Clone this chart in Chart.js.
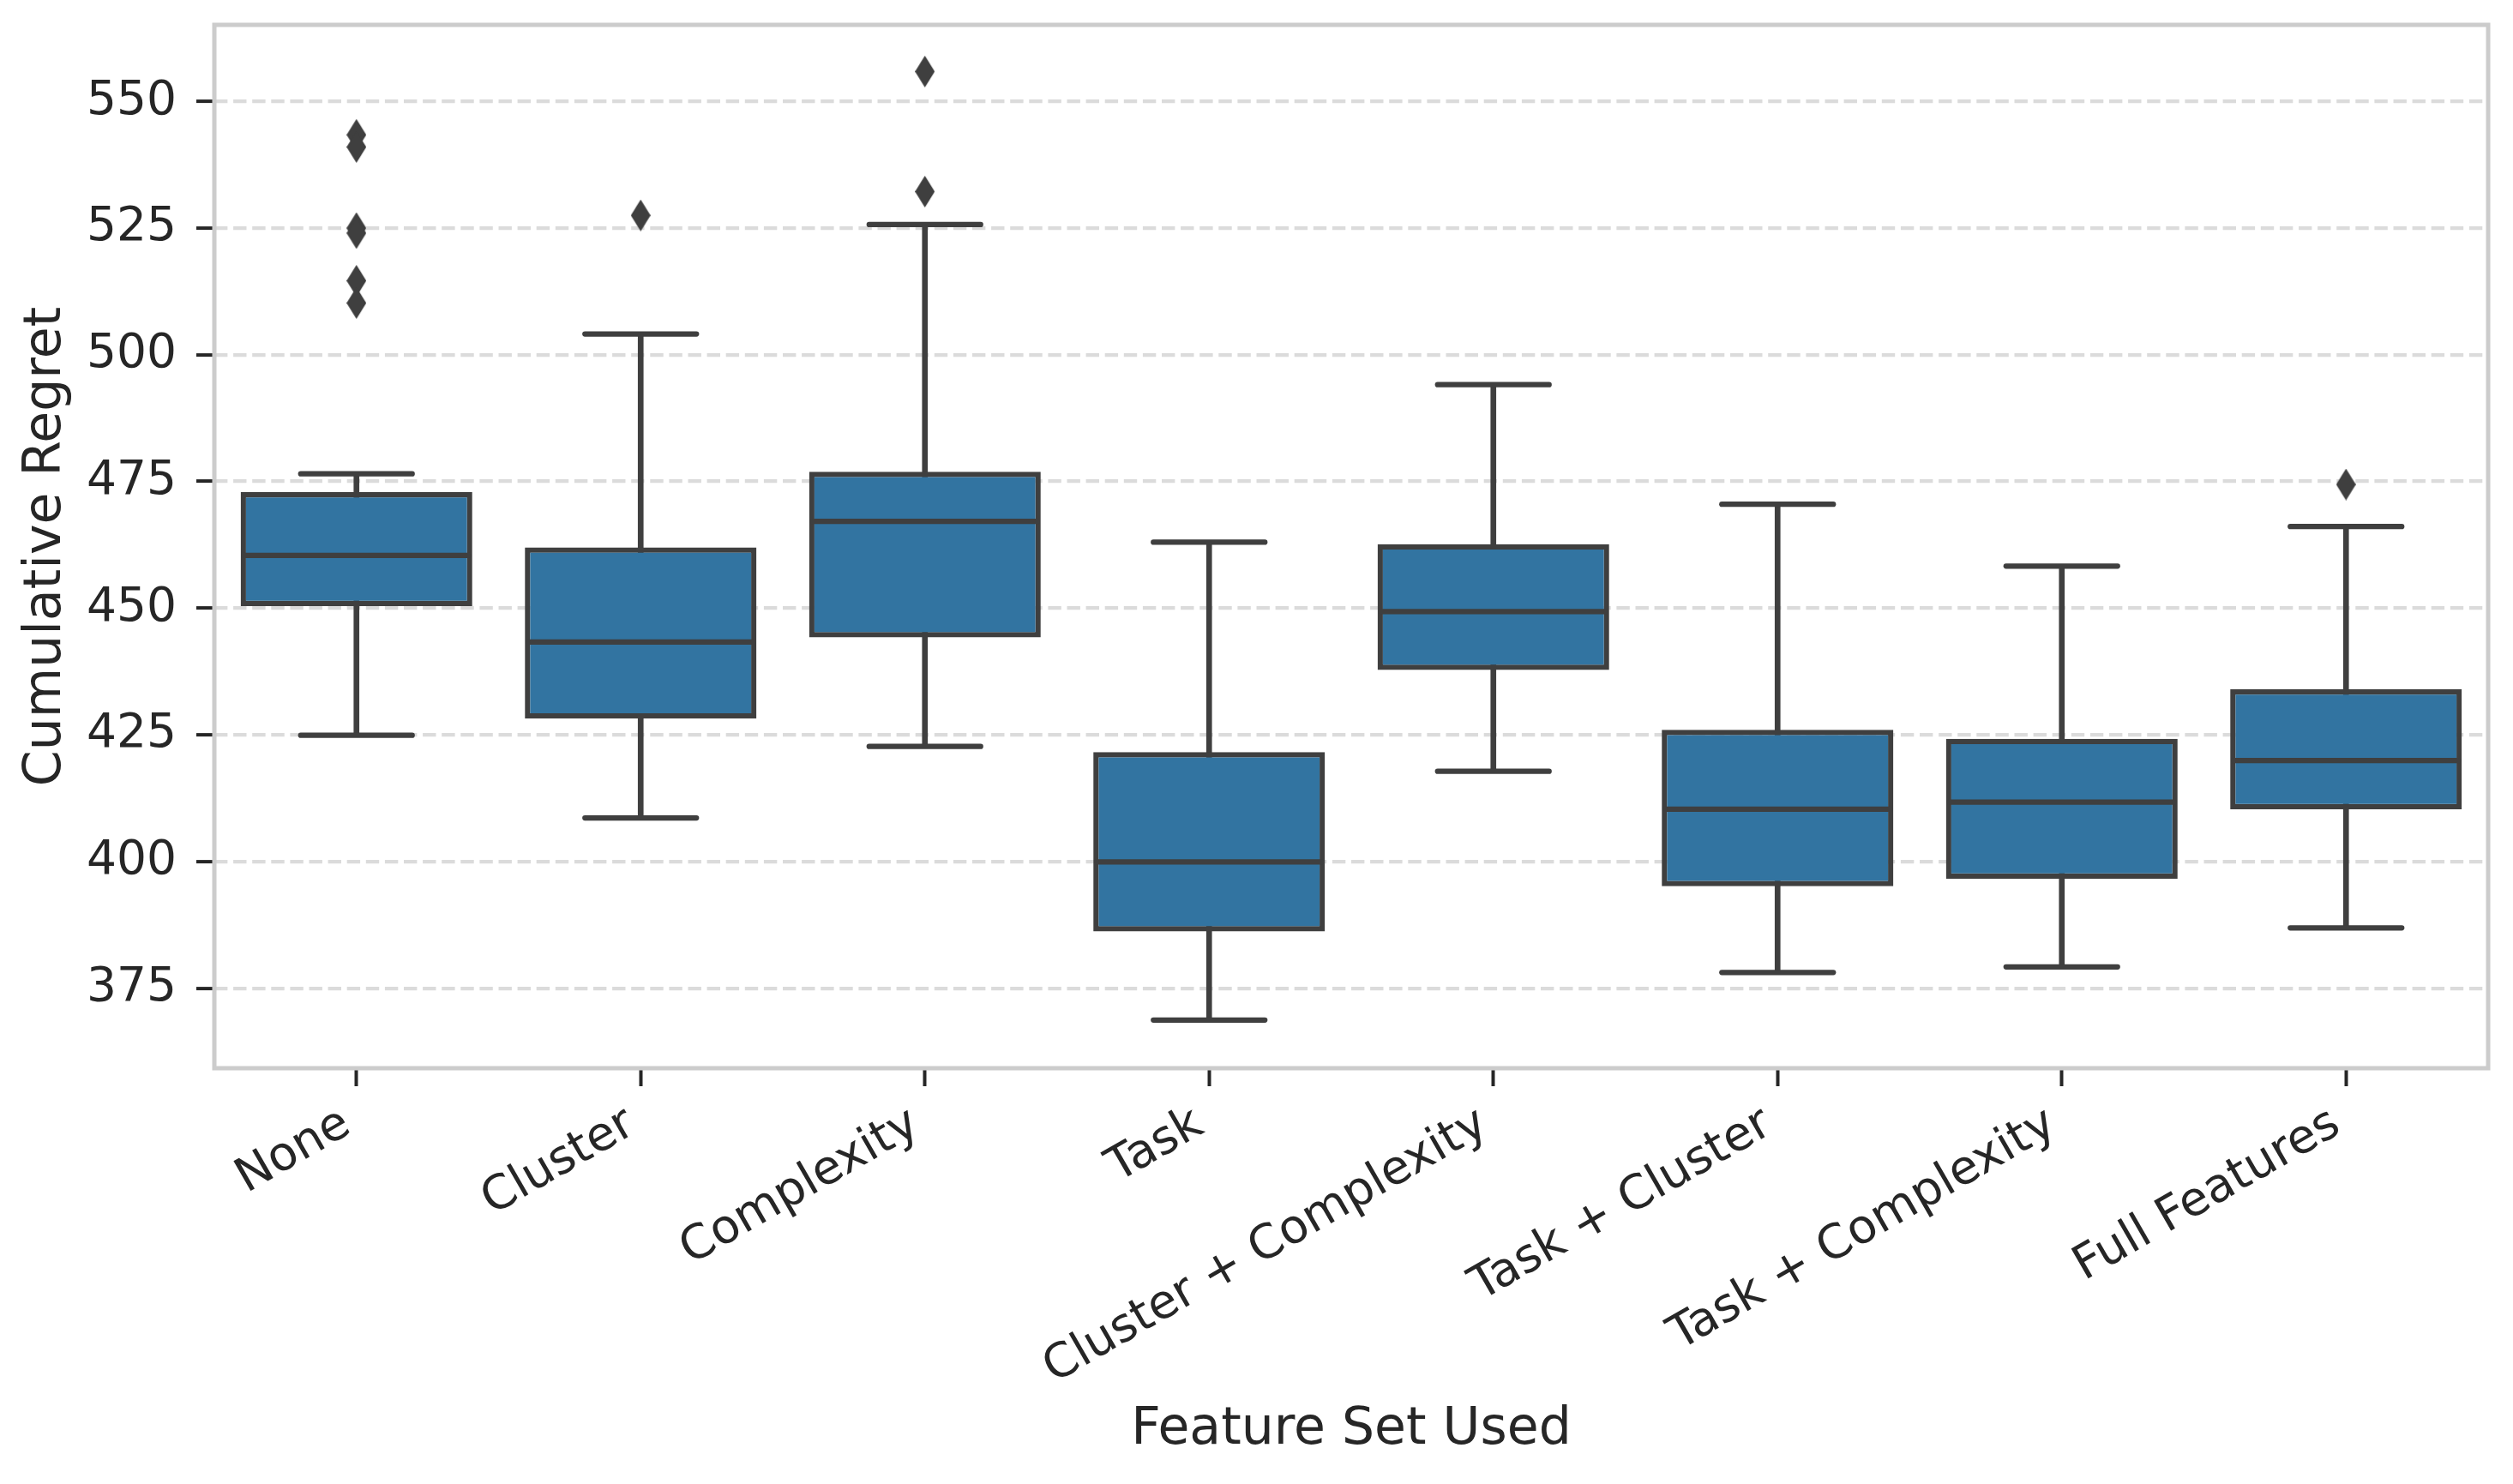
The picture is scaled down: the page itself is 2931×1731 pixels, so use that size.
<!DOCTYPE html>
<html>
<head>
<meta charset="utf-8">
<title>Cumulative Regret by Feature Set</title>
<script src="https://cdn.jsdelivr.net/npm/chart.js@4.4.0/dist/chart.umd.min.js"></script>
<style>
    html, body { margin: 0; padding: 0; background: #ffffff; }
    #wrap { width: 2931px; height: 1731px; }
</style>
</head>
<body>
<div id="wrap"><canvas id="regretChart" width="2931" height="1731"></canvas></div>
<script>
// Box plot summary per feature set
const featureSets = ['None', 'Cluster', 'Complexity', 'Task', 'Cluster + Complexity', 'Task + Cluster', 'Task + Complexity', 'Full Features'];
const whiskerLow  = [424.9, 408.6, 422.7, 368.7, 417.8, 378.1, 379.2, 386.9];
const quartile1   = [450.4, 428.2, 444.2, 386.2, 437.8, 395.1, 396.6, 410.3];
const medians     = [460.4, 443.3, 467.1, 399.9, 449.3, 410.3, 411.7, 419.9];
const quartile3   = [472.9, 462.0, 476.9, 421.6, 462.6, 426.0, 424.2, 434.0];
const whiskerHigh = [476.5, 504.1, 525.7, 463.0, 494.1, 470.5, 458.3, 466.1];

// Fliers
const outlierSets   = ['None', 'None', 'None', 'None', 'None', 'None', 'Cluster', 'Complexity', 'Complexity', 'Full Features'];
const outlierValues = [543.4, 541.0, 525.0, 524.0, 514.6, 510.2, 527.5, 555.9, 532.2, 474.4];

const yTicks = [375, 400, 425, 450, 475, 500, 525, 550];

const LINE_GRAY = '#3f3f3f';
const TEXT_COLOR = '#262626';
const FONT = '"DejaVu Sans", "Liberation Sans", sans-serif';

// thin diamond marker, like matplotlib's 'd'
function makeDiamond(w, h) {
    const c = document.createElement('canvas');
    c.width = w;
    c.height = h;
    const g = c.getContext('2d');
    g.fillStyle = LINE_GRAY;
    g.beginPath();
    g.moveTo(w / 2, 0);
    g.lineTo(w, h / 2);
    g.lineTo(w / 2, h);
    g.lineTo(0, h / 2);
    g.closePath();
    g.fill();
    return c;
}

// light grey frame around the plot area (all four spines),
// and round line caps for the whisker caps / medians
const framePlugin = {
    id: 'frame',
    beforeDatasetsDraw(chart) {
        chart.ctx.save();
        chart.ctx.lineCap = 'round';
    },
    afterDatasetsDraw(chart) {
        chart.ctx.restore();
    },
    afterDraw(chart) {
        const { ctx, chartArea: a } = chart;
        ctx.save();
        ctx.strokeStyle = '#cccccc';
        ctx.lineWidth = 5;
        ctx.strokeRect(a.left, a.top, a.right - a.left, a.bottom - a.top);
        ctx.restore();
    }
};

const ctx = document.getElementById('regretChart').getContext('2d');

new Chart(ctx, {
    type: 'bar',
    data: {
        labels: featureSets,
        datasets: [{
            type: 'line',
            label: 'Outliers',
            data: outlierSets.map((s, i) => ({ x: s, y: outlierValues[i] })),
            showLine: false,
            pointStyle: makeDiamond(23, 37),
            pointRadius: 18,
            order: 1
        }, {
            type: 'line',
            label: 'Upper cap',
            data: whiskerHigh,
            showLine: false,
            pointStyle: 'line',
            pointRadius: 65,
            pointBorderWidth: 6.25,
            pointBorderColor: LINE_GRAY,
            order: 2
        }, {
            type: 'line',
            label: 'Lower cap',
            data: whiskerLow,
            showLine: false,
            pointStyle: 'line',
            pointRadius: 65,
            pointBorderWidth: 6.25,
            pointBorderColor: LINE_GRAY,
            order: 2
        }, {
            type: 'line',
            label: 'Median',
            data: medians,
            showLine: false,
            pointStyle: 'line',
            pointRadius: 131,
            pointBorderWidth: 6.25,
            pointBorderColor: LINE_GRAY,
            order: 3
        }, {
            label: 'IQR',
            data: quartile1.map((q, i) => [q, quartile3[i]]),
            backgroundColor: '#3274a1',
            borderColor: LINE_GRAY,
            borderWidth: 6.25,
            borderSkipped: false,
            barPercentage: 0.815,
            categoryPercentage: 1.0,
            grouped: false,
            order: 4
        }, {
            label: 'Whisker',
            data: whiskerLow.map((w, i) => [w, whiskerHigh[i]]),
            backgroundColor: LINE_GRAY,
            borderWidth: 0,
            barThickness: 6,
            grouped: false,
            order: 5
        }]
    },
    options: {
        responsive: false,
        devicePixelRatio: 1,
        animation: false,
        events: [],
        layout: { autoPadding: false, padding: { top: 29, right: 29, bottom: 0, left: 0 } },
        plugins: {
            legend: { display: false },
            tooltip: { enabled: false }
        },
        scales: {
            x: {
                type: 'category',
                offset: true,
                grid: {
                    offset: false,
                    drawOnChartArea: false,
                    drawTicks: true,
                    tickLength: 21,
                    tickWidth: 4,
                    tickColor: TEXT_COLOR
                },
                border: { display: false },
                ticks: {
                    autoSkip: false,
                    minRotation: 30,
                    maxRotation: 30,
                    padding: 12,
                    labelOffset: -11,
                    color: TEXT_COLOR,
                    font: { family: FONT, size: 55 }
                },
                title: {
                    display: true,
                    text: 'Feature Set Used',
                    color: TEXT_COLOR,
                    font: { family: FONT, size: 60 },
                    padding: { top: 0, bottom: 27 }
                },
                afterFit(s) {
                    s.height = 485;
                    s.paddingLeft = 0;
                    s.paddingRight = 0;
                }
            },
            y: {
                type: 'linear',
                min: 359.2,
                max: 565.1,
                afterBuildTicks(s) {
                    s.ticks = yTicks.map(v => ({ value: v }));
                },
                grid: {
                    color: '#dbdbdb',
                    lineWidth: 4.2,
                    drawTicks: true,
                    tickLength: 21,
                    tickWidth: 4,
                    tickColor: TEXT_COLOR
                },
                border: { display: false, dash: [15.4, 6.7] },
                ticks: {
                    padding: 23,
                    color: TEXT_COLOR,
                    font: { family: FONT, size: 55 }
                },
                title: {
                    display: true,
                    text: 'Cumulative Regret',
                    color: TEXT_COLOR,
                    font: { family: FONT, size: 60 },
                    padding: { top: 18, bottom: 0 }
                },
                afterFit(s) {
                    s.width = 250;
                    s.paddingTop = 0;
                    s.paddingBottom = 0;
                }
            }
        }
    },
    plugins: [framePlugin]
});
</script>
</body>
</html>
